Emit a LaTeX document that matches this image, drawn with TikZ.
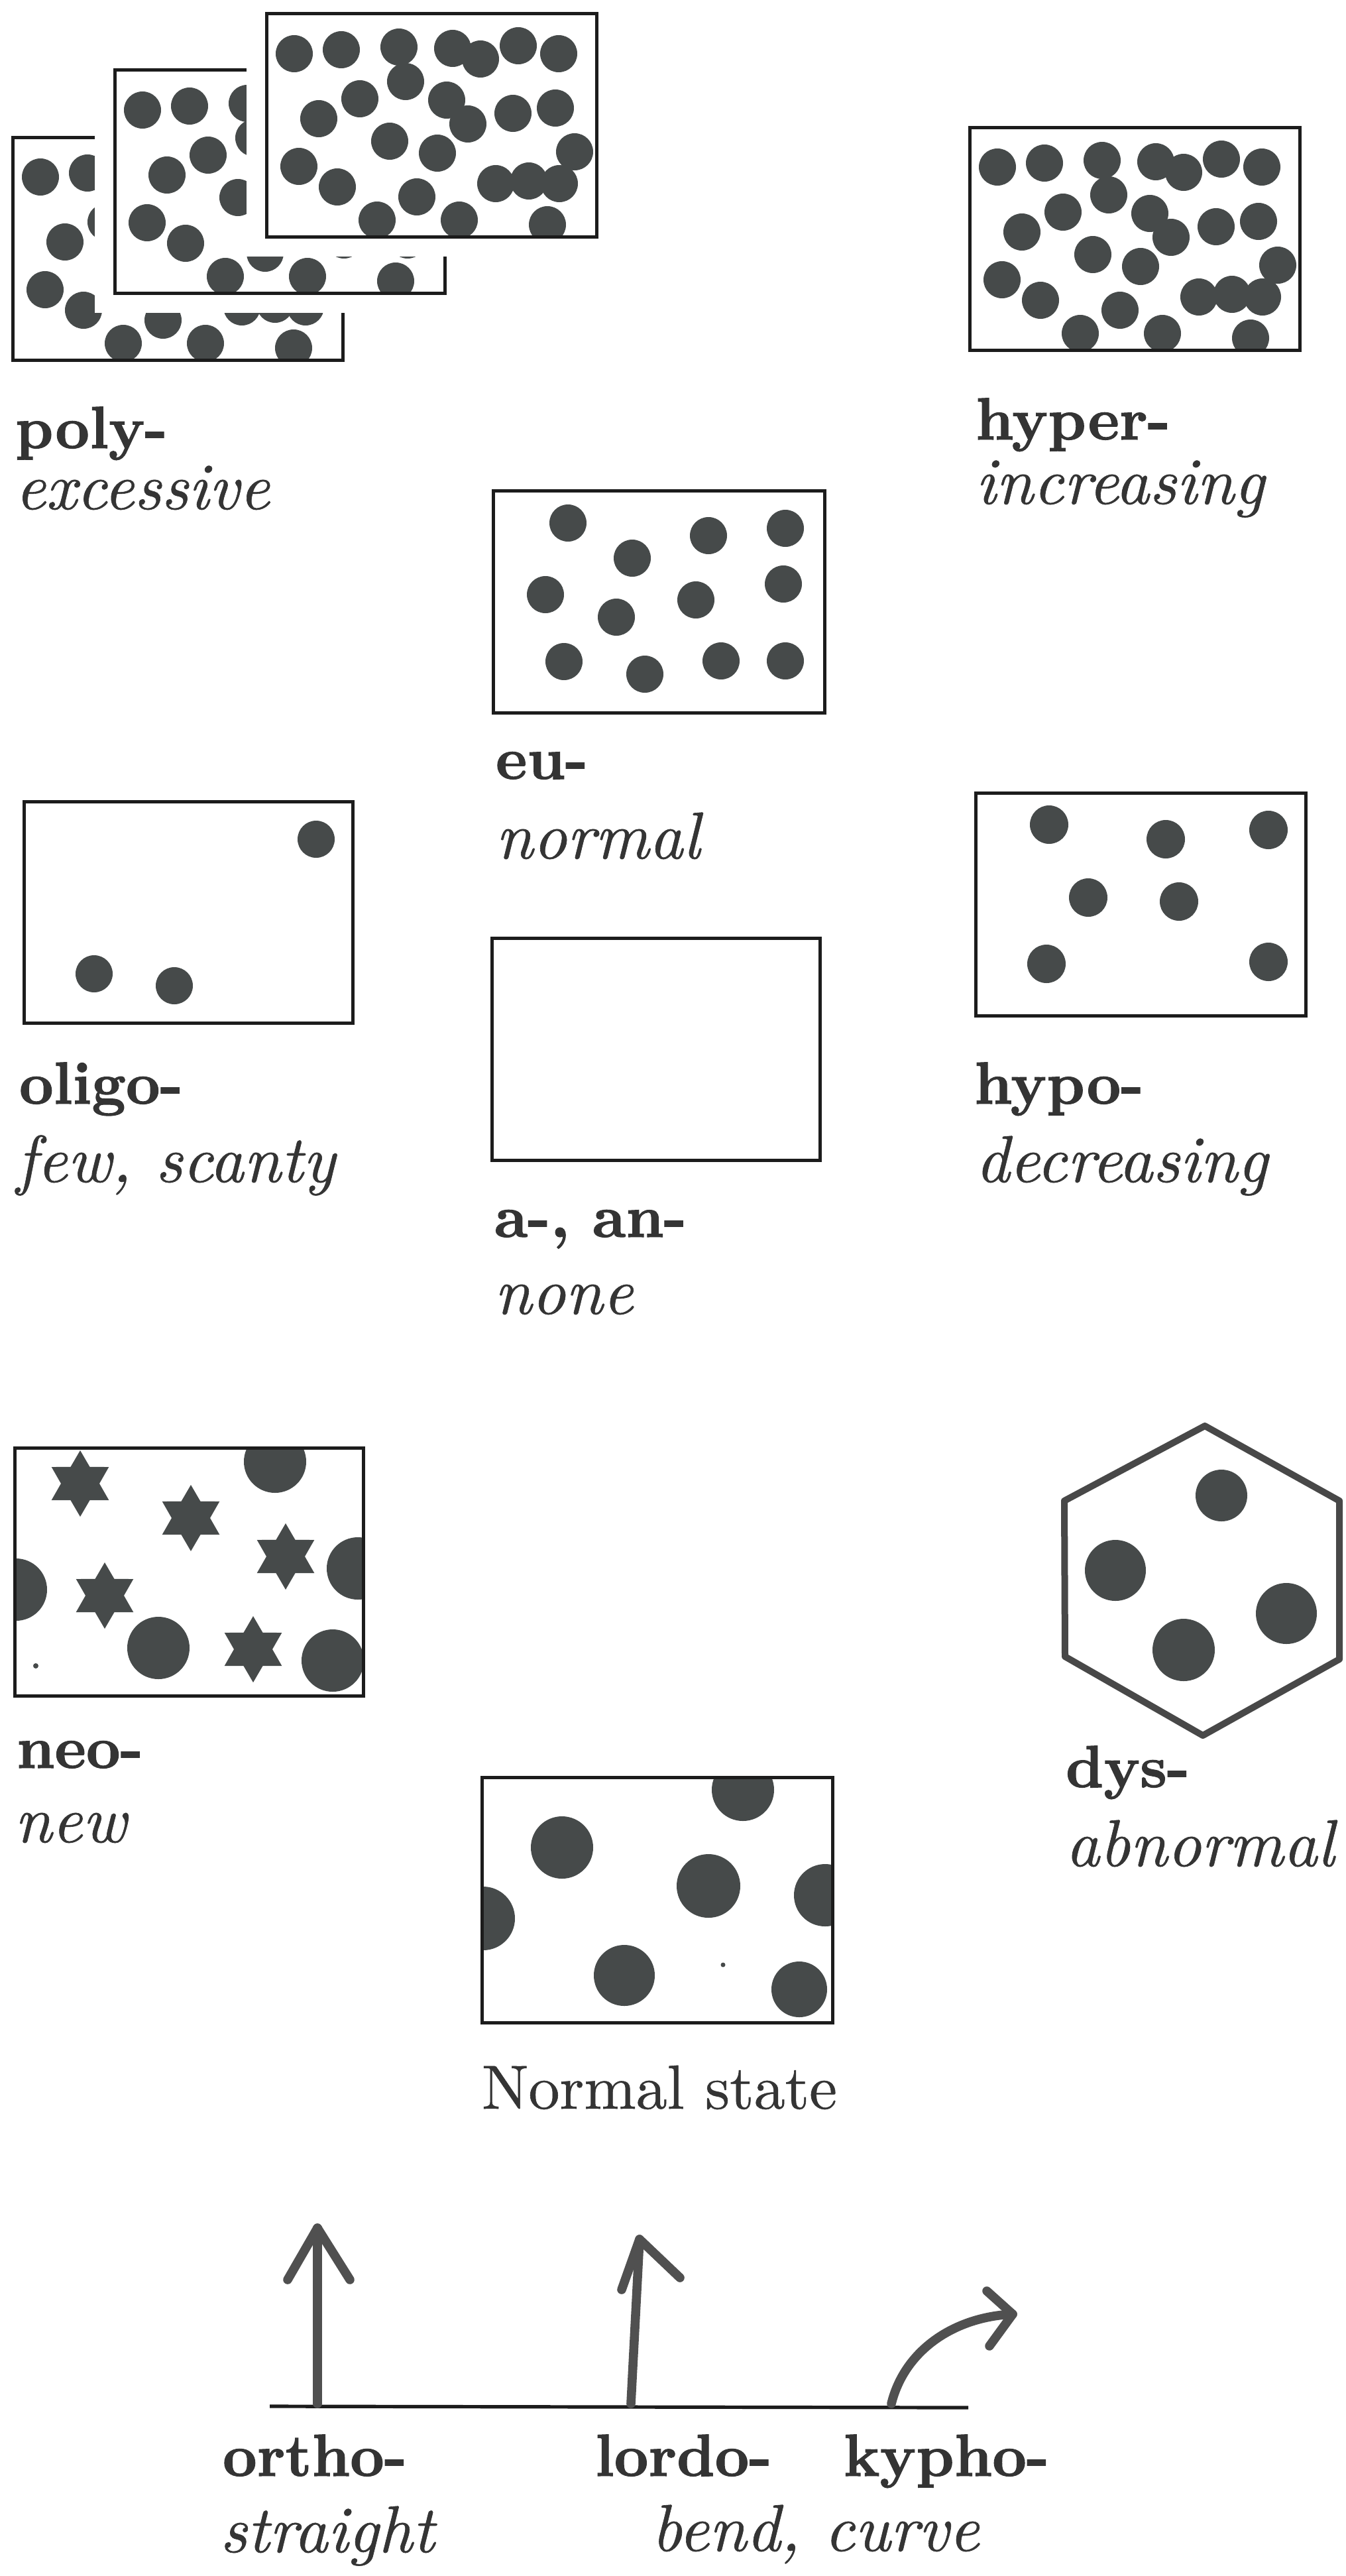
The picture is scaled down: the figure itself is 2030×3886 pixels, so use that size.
\documentclass[tikz,border=0pt]{standalone}
\usepackage{fontspec}
\setmainfont{lmroman10}[Extension=.otf, UprightFont=*-regular, BoldFont=*-bold, ItalicFont=*-italic, BoldItalicFont=*-bolditalic, UprightFeatures={FakeBold=0.6}, BoldFeatures={FakeBold=1.2}, ItalicFeatures={FakeBold=0.6}]
\definecolor{txtc}{RGB}{52,52,52}
\definecolor{dotc}{RGB}{70,74,74}
\definecolor{boxc}{RGB}{28,28,28}
\definecolor{hexc}{RGB}{72,72,72}
\definecolor{arrc}{RGB}{80,80,80}
\newcommand\densebox[3]{%
  \fill[white] ({#1-#3},{#2-#3}) rectangle ({#1+498+#3},{#2+336+#3});
  \begin{scope}
    \clip (#1,#2) rectangle ({#1+498},{#2+336});
    \foreach \dx/\dy in {42/60,113/54,200/50,281/52,323/68,380/48,441/60,210/102,141/128,79/158,272/130,304/166,372/150,436/142,186/192,258/210,465/208,49/230,107/261,346/256,396/252,442/256,227/276,167/311,291/311,424/318}
      {\fill[dotc] ({#1+\dx},{#2+\dy}) circle[radius=28];}
  \end{scope}
  \draw[boxline] (#1,#2) rectangle ({#1+498},{#2+336});
}
\newcommand\hexstar[1]{%
  \fill[dotc,shift={#1}] (90:50) \foreach \a in {120,180,240,300,360,420}{ -- (\a:29) -- ({\a+30}:50)} -- cycle;
}
\begin{document}
\begin{tikzpicture}[x=0.5pt,y=-0.5pt,
  boxline/.style={draw=boxc,line width=2.5pt},
  pre/.style={anchor=base west,inner sep=0pt,outer sep=0pt,text=txtc,font=\fontsize{45}{54}\selectfont\bfseries},
  mean/.style={anchor=base west,inner sep=0pt,outer sep=0pt,text=txtc,font=\fontsize{50}{60}\selectfont\itshape},
  plain/.style={anchor=base west,inner sep=0pt,outer sep=0pt,text=txtc,font=\fontsize{47}{56}\selectfont},
  arr/.style={draw=arrc,line width=6.8pt,line cap=round,line join=round}]
\fill[white] (0,0) rectangle (2030,3886);
\useasboundingbox (0,0) rectangle (2030,3886);

% poly- : three stacked boxes
\densebox{19}{207}{30}
\densebox{173}{106}{30}
\densebox{402}{21}{30}
\node[pre] (poly) at (23,676) {poly-};
\node[mean] (polym) at (23,768) {excessive};

% hyper-
\densebox{1463}{192}{0}
\node[pre] (hyper) at (1472,663) {hyper-};
\node[mean] (hyperm) at (1472,760) {increasing};

% eu-
\draw[boxline] (744,740) rectangle (1244,1075);
\foreach \p in {(857,789),(954,842),(1069,808),(1185,797),(823,897),(930,931),(1050,905),(1182,881),(851,998),(973,1017),(1088,997),(1185,997)}
  {\fill[dotc] \p circle[radius=28];}
\node[pre] (eu) at (748,1175) {eu-};
\node[mean] (eum) at (748,1295) {normal};

% oligo-
\draw[boxline] (36,1209) rectangle (532,1543);
\foreach \p in {(142,1469),(263,1487),(477,1266)}
  {\fill[dotc] \p circle[radius=28];}
\node[pre] (oligo) at (29,1665) {oligo-};
\node[mean] (oligom) at (25,1783) {few, scanty};

% hypo-
\draw[boxline] (1472,1196) rectangle (1970,1532);
\foreach \p in {(1583,1244),(1759,1266),(1914,1252),(1642,1354),(1779,1360),(1579,1454),(1914,1451)}
  {\fill[dotc] \p circle[radius=29];}
\node[pre] (hypo) at (1470,1665) {hypo-};
\node[mean] (hypom) at (1472,1783) {decreasing};

% a-, an-
\draw[boxline] (742,1415) rectangle (1237,1750);
\node[pre] (an) at (746,1866) {a-, an-};
\node[mean] (anm) at (746,1982) {none};

% neo-
\begin{scope}
  \clip (22,2184) rectangle (548,2558);
  \foreach \p in {(415,2205),(24,2398),(540,2366),(239,2486),(502,2505)}
    {\fill[dotc] \p circle[radius=47];}
\end{scope}
\hexstar{(121,2238)}
\hexstar{(288,2290)}
\hexstar{(431,2348)}
\hexstar{(158,2407)}
\hexstar{(382,2488)}
\fill[dotc] (54,2513) circle[radius=4];
\draw[boxline] (22,2184) rectangle (548,2558);
\node[pre] (neo) at (25,2667) {neo-};
\node[mean] (neom) at (22,2779) {new};

% dys-
\draw[draw=hexc,line width=5pt,line join=round] (1818,2151) -- (2021,2264) -- (2021,2503) -- (1815,2618) -- (1607,2499) -- (1606,2264) -- cycle;
\fill[dotc] (1843,2256) circle[radius=39];
\fill[dotc] (1683,2369) circle[radius=46];
\fill[dotc] (1786,2489) circle[radius=47];
\fill[dotc] (1941,2434) circle[radius=46];
\node[pre] (dys) at (1608,2696) {dys-};
\node[mean] (dysm) at (1608,2815) {abnormal};

% Normal state
\begin{scope}
  \clip (727,2681) rectangle (1256,3051);
  \foreach \p/\r in {(1121,2700)/47,(848,2787)/47,(1069,2845)/48,(729,2894)/48,(1245,2859)/47,(942,2980)/46,(1206,3001)/42}
    {\fill[dotc] \p circle[radius=\r];}
\end{scope}
\fill[dotc] (1091,2964) circle[radius=3.5];
\draw[boxline] (727,2681) rectangle (1256,3051);
\node[plain] (normal) at (727,3181) {Normal state};

% bottom: ortho-, lordo-, kypho-
\coordinate (gl) at (407,3630);
\coordinate (gr) at (1461,3632);
\draw[draw=boxc,line width=2.6pt] (gl) -- (gr);
\coordinate (ob) at (479,3626);
\coordinate (ot) at (479,3361);
\coordinate (oa1) at (434,3439);
\coordinate (oa2) at (528,3439);
\draw[arr] (ob) -- (ot);
\draw[arr] (oa1) -- (ot) -- (oa2);
\coordinate (lb) at (952,3626);
\coordinate (lt) at (965,3378);
\coordinate (la1) at (938,3454);
\coordinate (la2) at (1026,3436);
\draw[arr] (lb) -- (lt);
\draw[arr] (la1) -- (lt) -- (la2);
\coordinate (kb) at (1345,3626);
\coordinate (kt) at (1528,3491);
\coordinate (ka1) at (1489,3456);
\coordinate (ka2) at (1493,3539);
\draw[arr] (kb) .. controls (1365,3545) and (1440,3495) .. (kt);
\draw[arr] (ka1) -- (kt) -- (ka2);
\node[pre] (ortho) at (336,3735) {ortho-};
\node[mean] (orthom) at (332,3850) {straight};
\node[pre] (lordo) at (898,3735) {lordo-};
\node[pre] (kypho) at (1273,3735) {kypho-};
\node[mean] (kyphom) at (983,3848) {bend, curve};
\end{tikzpicture}
\end{document}
